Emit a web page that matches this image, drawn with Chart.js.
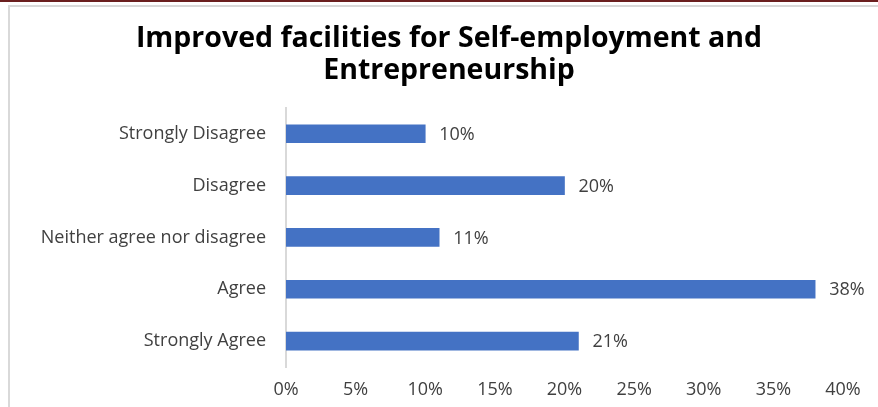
<!DOCTYPE html>
<html>
<head>
<meta charset="utf-8">
<script src="https://cdn.jsdelivr.net/npm/chart.js@4"></script>
<style>
html,body{margin:0;padding:0;background:#fff;}
#frame{position:absolute;left:0;top:0;width:878px;height:407px;border-top:2px solid #6b1f1f;box-sizing:border-box;}
#inner{position:absolute;left:8px;top:3px;right:0;bottom:0;border-left:2px solid #d9d9d9;border-top:2px solid #d9d9d9;}
#wrap{position:absolute;left:0;top:0;width:878px;height:407px;}
</style>
</head>
<body>
<div id="frame"><div id="inner"></div></div>
<div id="wrap"><canvas id="chart" width="878" height="407"></canvas></div>
<script>
const categories = ["Strongly Disagree","Disagree","Neither agree nor disagree","Agree","Strongly Agree"]
const shares = [0.10,0.20,0.11,0.38,0.21]
const titleLines = ["Improved facilities for Self-employment and","Entrepreneurship"]

const FONT = "'Open Sans', sans-serif"

/* value labels at the end of each bar */
const barLabels = {
id:"barLabels",
afterDatasetsDraw(chart){
const ctx = chart.ctx
const meta = chart.getDatasetMeta(0)
ctx.save()
ctx.font = "18px " + FONT
ctx.fillStyle = "#404040"
ctx.textAlign = "left"
ctx.textBaseline = "middle"
meta.data.forEach((bar,i)=>{
ctx.fillText(Math.round(shares[i]*100) + "%", bar.x + 14, bar.y + 1)
})
ctx.restore()
}
}

/* let the title span the whole width, not just the padded box */
const wideTitle = {
id:"wideTitle",
afterLayout(chart){
if(chart.titleBlock){
chart.titleBlock.right = chart.width
chart.titleBlock.width = chart.width - chart.titleBlock.left
}
}
}

new Chart(document.getElementById("chart"),{
type:"bar",
data:{
labels:categories,
datasets:[{
data:shares,
backgroundColor:"#4472c4",
barThickness:18
}]
},
plugins:[barLabels,wideTitle],
options:{
indexAxis:"y",
responsive:false,
animation:false,
layout:{padding:{left:20,right:35,top:0,bottom:0}},
plugins:{
legend:{display:false},
tooltip:{enabled:false},
title:{
display:true,
text:titleLines,
color:"#000",
font:{family:FONT,size:28.5,weight:"bold",lineHeight:1.12},
padding:{top:23,bottom:21}
}
},
scales:{
x:{
min:0,
max:0.4,
grid:{display:false,drawTicks:false},
border:{display:false},
ticks:{
stepSize:0.05,
padding:12,
color:"#404040",
font:{family:FONT,size:18},
callback:v=>Math.round(v*100) + "%"
},
afterFit:s=>{s.height = 40}
},
y:{
grid:{display:false,drawTicks:false},
border:{display:true,color:"#d9d9d9",width:2},
ticks:{
padding:20,
color:"#404040",
font:{family:FONT,size:18}
},
afterFit:s=>{s.width = 266}
}
}
}
})
</script>
</body>
</html>
